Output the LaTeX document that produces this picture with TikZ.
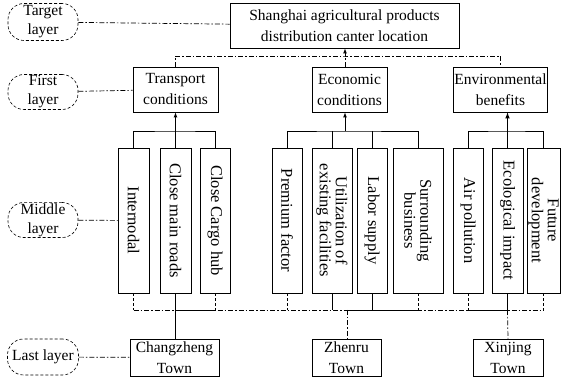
\documentclass[tikz,border=0pt]{standalone}
\usepackage{fontspec}
\setmainfont{Liberation Serif}
\usetikzlibrary{arrows}
\tikzset{
    crit/.style={draw, rectangle, line width=0.8pt, align=center, inner sep=1pt, font=\fontsize{15.5}{21}\selectfont},
    factor/.style={draw, rectangle, line width=0.8pt, align=center, inner sep=1pt, rotate=-90, minimum width=145pt, font=\fontsize{16.5}{16}\selectfont},
    layer/.style={draw, densely dashed, line width=0.6pt, rounded corners=16pt, align=center, inner sep=1pt, minimum width=70pt, font=\fontsize{15.5}{19}\selectfont},
    dd/.style={line width=0.7pt, dash pattern=on 5pt off 2pt on 1.5pt off 2pt},
    dsh/.style={line width=0.7pt, dash pattern=on 3pt off 2pt}
}
\begin{document}
\begin{tikzpicture}[x=1pt, y=1pt]
                \useasboundingbox (0,0) rectangle (563,377);
                \node[layer, minimum height=37pt] (tl) at (43,355) {Target\\layer};
                \node[layer, minimum height=35pt] (fl) at (43,285) {First\\layer};
                \node[layer, minimum height=35pt] (ml) at (43,157) {Middle\\layer};
                \node[layer, minimum height=36pt, minimum width=71pt] (ll) at (43,20) {Last layer};

                \node[crit, minimum width=229pt, minimum height=45pt] (goal) at (344.5,351.5) {Shanghai agricultural products\\distribution canter location};
                \node[crit, minimum width=85pt, minimum height=45pt] (trans) at (175.5,287.5) {Transport\\conditions};
                \node[crit, minimum width=75pt, minimum height=45pt] (econ) at (349.5,287.5) {Economic\\conditions};
                \node[crit, minimum width=83pt, minimum height=45pt] (env) at (500.5,287.5) {Environmental\\benefits};

                \node[factor, minimum height=31pt] (inter) at (133.5,156.5) {Internodal};
                \node[factor, minimum height=31pt] (roads) at (175.5,156.5) {Close main roads};
                \node[factor, minimum height=30pt] (cargo) at (215,156.5) {Close Cargo hub};
                \node[factor, minimum height=30pt] (prem) at (287,156.5) {Premium factor};
                \node[factor, minimum height=40pt] (util) at (332,156.5) {Utilization of\\existing facilities};
                \node[factor, minimum height=30pt] (labor) at (372,156.5) {Labor supply};
                \node[factor, minimum height=50pt] (surr) at (418,156.5) {Surrounding\\business};
                \node[factor, minimum height=30pt] (air) at (468,156.5) {Air pollution};
                \node[factor, minimum height=31pt] (eco) at (507.5,156.5) {Ecological impact};
                \node[factor, minimum height=33pt] (fut) at (543.5,156.5) {Future\\development};

                \node[crit, minimum width=89pt, minimum height=37pt] (chang) at (174.5,19.5) {Changzheng\\Town};
                \node[crit, minimum width=69pt, minimum height=37pt] (zhen) at (346.5,19.5) {Zhenru\\Town};
                \node[crit, minimum width=70pt, minimum height=37pt] (xin) at (508,19.5) {Xinjing\\Town};

                \coordinate (top) at (345,321);
                \coordinate (ebus) at (345,246);
                \coordinate (low) at (347,67);

                \draw[dd] (tl) -- (goal);
                \draw[dd] (fl) -- (trans);
                \draw[dd] (ml) -- (inter);
                \draw[dd] (ll) -- (chang);

                \draw[dd] (trans.north) |- (top) -| (env.north);
                \draw[dd] (econ.north -| top) -- (top);
                \draw[-latex, line width=0.7pt] (top) -- (goal.south -| top);

                \draw[line width=0.7pt] (inter.west) |- (ebus -| roads.west) -| (cargo.west);
                \draw[-latex, line width=0.7pt] (roads.west) -- (trans.south -| roads.west);
                \draw[line width=0.7pt] (prem.west) |- (ebus) -| (surr.west);
                \draw[line width=0.7pt] (util.west) -- (util.west |- ebus);
                \draw[line width=0.7pt] (labor.west) -- (labor.west |- ebus);
                \draw[-latex, line width=0.7pt] (ebus) -- (econ.south -| ebus);
                \draw[line width=0.7pt] (air.west) |- (ebus -| eco.west) -| (fut.west);
                \draw[-latex, line width=1.1pt] (eco.west) -- (env.south -| eco.west);

                \draw[dd] (inter.east |- low) -- (fut.east |- low);
                \draw[line width=0.9pt] (roads.east |- low) -- (cargo.east |- low);
                \draw[line width=0.9pt] (low) -- (surr.east |- low);
                \draw[line width=0.9pt] (air.east |- low) -- (eco.east |- low);
                \draw[dsh] (inter.east) -- (inter.east |- low);
                \draw[dsh] (cargo.east) -- (cargo.east |- low);
                \draw[dsh] (prem.east) -- (prem.east |- low);
                \draw[dsh] (surr.east) -- (surr.east |- low);
                \draw[dsh] (air.east) -- (air.east |- low);
                \draw[dsh] (fut.east) -- (fut.east |- low);
                \draw[line width=0.7pt] (roads.east) -- (roads.east |- chang.north);
                \draw[line width=0.7pt] (util.east) -- (util.east |- low);
                \draw[line width=0.7pt] (labor.east) -- (labor.east |- low);
                \draw[line width=0.7pt] (eco.east) -- (eco.east |- low);
                \draw[dd] (low) -- (zhen.north -| low);
                \draw[dd] (eco.east |- low) -- (xin.north);
            \end{tikzpicture}
\end{document}
